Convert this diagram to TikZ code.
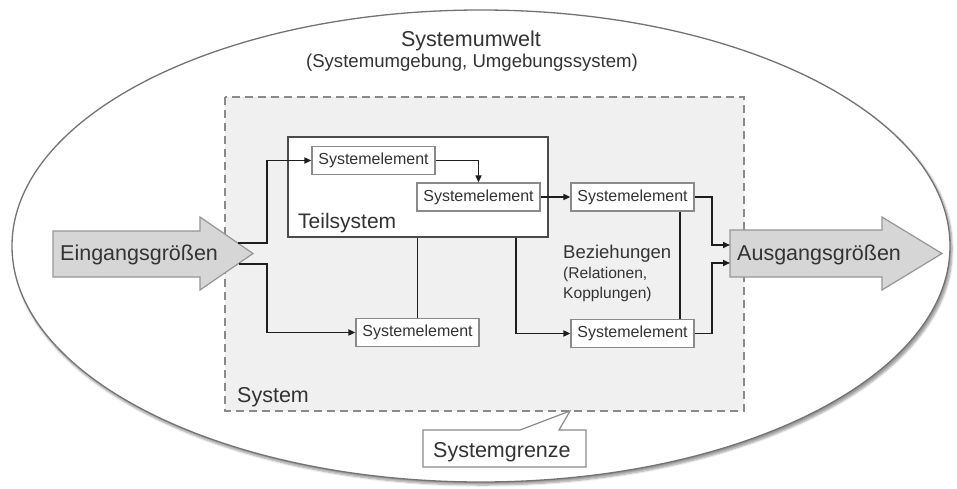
\documentclass[tikz,border=0pt]{standalone}
\usepackage{fontspec}
\setmainfont{Liberation Sans}
\usetikzlibrary{arrows.meta,calc,shadows.blur}
\definecolor{ink}{HTML}{333333}
\definecolor{wire}{HTML}{1E1E1E}
\definecolor{frame}{HTML}{8A8A8A}
\definecolor{sysfill}{HTML}{F0F0F0}
\definecolor{bigfill}{HTML}{D6D6D6}
\newcommand{\fs}[1]{\fontsize{#1}{#1}\selectfont}
\tikzset{
  elem/.style={draw=frame, line width=1.2pt, fill=white, rectangle,
    minimum width=123pt, minimum height=28pt, inner sep=0pt,
    text=ink, font=\fs{16}},
  label/.style={text=ink, inner sep=0pt},
  wirestyle/.style={draw=wire, line width=1.6pt},
  flow/.style={wirestyle, -{Triangle[length=7pt,width=6pt]}},
  bigarrow/.style={draw=frame!90, line width=1.2pt, fill=bigfill},
}
\begin{document}
\begin{tikzpicture}[x=1pt,y=-1pt]
\useasboundingbox (0,0) rectangle (957,489);

% environment
\draw[draw=black!55, line width=1.3pt, fill=white,
  blur shadow={shadow xshift=2pt, shadow yshift=-3pt, shadow blur steps=6, shadow blur extra rounding=2pt}]
  (481,246) ellipse [x radius=469pt, y radius=236pt];
\node[label, anchor=base, font=\fs{21.5}] (umwelt) at (471,47) {Systemumwelt};
\node[label, anchor=base, font=\fs{18.6}] (umgebung) at (472,68) {(Systemumgebung, Umgebungssystem)};

% system boundary
\draw[draw=frame, line width=1.8pt, fill=sysfill, dash pattern=on 8pt off 5pt]
  (225,97) rectangle (744,411);
\coordinate (grenze) at (570,411);
\node[label, anchor=base west, font=\fs{21.5}] (system) at (237,402) {System};

% subsystem
\node[draw=wire!80, line width=1.2pt, fill=white, minimum width=260pt, minimum height=100pt, inner sep=0pt]
  (teil) at (418,187) {};
\node[label, anchor=base west, font=\fs{21}] (teillabel) at (298,228) {Teilsystem};

% elements
\node[elem] (se1) at (373.5,160.5) {Systemelement};
\node[elem] (se2) at (478.5,197) {Systemelement};
\node[elem] (se3) at (632.5,197) {Systemelement};
\node[elem] (se4) at (632.5,333.5) {Systemelement};
\node[elem] (se5) at (417.5,332.5) {Systemelement};

% relations label
\node[label, anchor=base west, font=\fs{18.5}] (bez) at (563,258) {Beziehungen};
\node[label, anchor=base west, font=\fs{15.6}] (rel) at (563,278) {(Relationen,};
\node[label, anchor=base west, font=\fs{15.6}] (kop) at (563,298) {Kopplungen)};

% input and output arrows
\draw[bigarrow] (53,231) -- (200,231) -- (200,217) -- (253,253.5) -- (200,290) -- (200,277) -- (53,277) -- cycle;
\node[label, anchor=base west, font=\fs{21.5}] (eingang) at (60,260) {Eingangsgrößen};
\coordinate (in1) at (238,243);
\coordinate (in2) at (239,264);

\draw[bigarrow] (730,230) -- (882,230) -- (882,217) -- (942,253.5) -- (882,290) -- (882,277) -- (730,277) -- cycle;
\node[label, anchor=base west, font=\fs{21.5}] (ausgang) at (737,260) {Ausgangsgrößen};
\coordinate (out1) at (730,245);
\coordinate (out2) at (730,263);

% helper columns for connectors
\coordinate (ix) at (267,0);
\coordinate (kx) at (516,0);
\coordinate (vx) at (680,0);
\coordinate (jx) at (712,0);

% connectors
\draw[flow] (in1) -- (ix |- in1) |- (se1.west);
\draw[flow] (in2) -- (ix |- in2) |- (se5.west);
\draw[flow] (se1.east) -| (se2.north);
\draw[flow] (se2.east) -- (se3.west);
\draw[wirestyle] (se5.north) -- (se5.north |- teil.south);
\draw[flow] (teil.south -| kx) |- (se4.west);
\draw[wirestyle] (se3.south -| vx) -- (se4.north -| vx);
\draw[flow] (se3.east) -| (jx |- out1) -- (out1);
\draw[flow] (se4.east) -| (jx |- out2) -- (out2);

% boundary callout
\draw[draw=frame, line width=1.2pt, fill=white]
  (423,430) -- (520,430) -- (grenze) -- (559,430) -- (586,430) -- (586,467) -- (423,467) -- cycle;
\node[label, anchor=base west, font=\fs{21.5}] (grenzlabel) at (433,457) {Systemgrenze};
\end{tikzpicture}
\end{document}
